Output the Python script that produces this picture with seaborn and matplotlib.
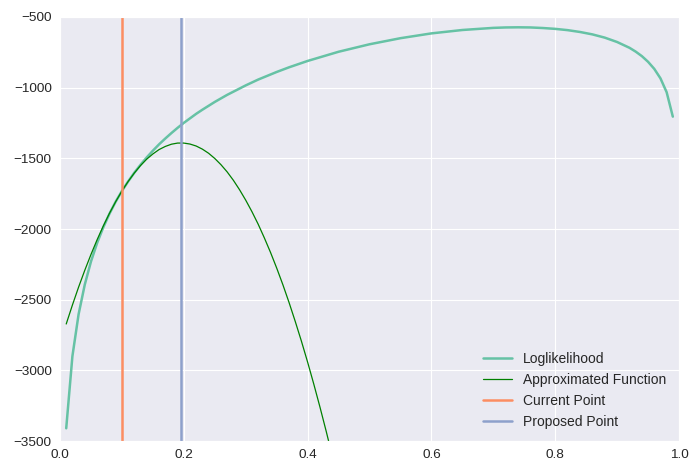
import numpy as np
import pandas as pd
import matplotlib
matplotlib.use("Agg")
import matplotlib.pyplot as plt
import seaborn as sns

# ------------------------------------------------------------
# data
# ------------------------------------------------------------
p_grid = [0.01, 0.02, 0.03, 0.04, 0.05, 0.06, 0.07, 0.08, 0.09, 0.10,
          0.11, 0.12, 0.13, 0.14, 0.15, 0.16, 0.17, 0.18, 0.19, 0.20,
          0.22, 0.23, 0.25, 0.27, 0.30, 0.32, 0.35, 0.37, 0.40, 0.45,
          0.50, 0.55, 0.60, 0.65, 0.70, 0.72, 0.74, 0.76, 0.78, 0.80,
          0.82, 0.84, 0.86, 0.88, 0.90, 0.92, 0.93, 0.94, 0.95, 0.96,
          0.97, 0.98, 0.99]
loglik = [-3410, -2900, -2603, -2393, -2230, -2098, -1987, -1891, -1806, -1731,
          -1664, -1602, -1546, -1494, -1446, -1401, -1360, -1321, -1284, -1249,
          -1185, -1156, -1101, -1051, -984, -943, -889, -856, -811, -746,
          -693, -650, -616, -592, -577, -574, -573, -574, -578, -584,
          -593, -606, -623, -646, -677, -718, -745, -777, -817, -867,
          -934, -1032, -1205]

approx_x = [0.01, 0.02, 0.03, 0.04, 0.05, 0.06, 0.07, 0.08, 0.09, 0.10,
            0.11, 0.12, 0.13, 0.14, 0.15, 0.16, 0.17, 0.18, 0.19, 0.20,
            0.21, 0.22, 0.23, 0.24, 0.25, 0.26, 0.27, 0.28, 0.29, 0.30,
            0.31, 0.32, 0.33, 0.34, 0.35, 0.36, 0.37, 0.38, 0.39, 0.40,
            0.41, 0.42, 0.43, 0.44, 0.45, 0.46]
approx_y = [-2672, -2538, -2411, -2292, -2180, -2075, -1978, -1888, -1806, -1731,
            -1664, -1604, -1551, -1506, -1469, -1438, -1416, -1400, -1392, -1392,
            -1399, -1413, -1435, -1464, -1501, -1545, -1596, -1655, -1722, -1796,
            -1877, -1965, -2062, -2165, -2276, -2394, -2520, -2654, -2794, -2942,
            -3098, -3261, -3431, -3609, -3795, -3987]

current_point = 0.1
proposed_point = 0.1957

colors = sns.color_palette("Set2", 3)

# ------------------------------------------------------------
# style
# ------------------------------------------------------------
sns.set_style("darkgrid")
plt.rcParams["font.family"] = ["Liberation Sans", "DejaVu Sans"]
plt.rcParams["xtick.labelsize"] = 9.7
plt.rcParams["ytick.labelsize"] = 9.7

df_ll = pd.DataFrame({"p": p_grid, "value": loglik})
df_ap = pd.DataFrame({"p": approx_x, "value": approx_y})

fig = plt.figure(figsize=(6.98, 4.76), dpi=100)
ax = fig.add_axes([0.086, 0.0735, 0.8868, 0.8908])

sns.lineplot(data=df_ll, x="p", y="value", ax=ax, color=colors[0],
             linewidth=1.8, label="Loglikelihood")
sns.lineplot(data=df_ap, x="p", y="value", ax=ax, color="green",
             linewidth=0.9, label="Approximated Function")
ax.axvline(current_point, color=colors[1], linewidth=1.8, label="Current Point")
ax.axvline(proposed_point, color=colors[2], linewidth=1.8, label="Proposed Point")

ax.set_xlim(0, 1.0)
ax.set_ylim(-3500, -500)
ax.set_xticks([0.0, 0.2, 0.4, 0.6, 0.8, 1.0])
ax.set_yticks([-3500, -3000, -2500, -2000, -1500, -1000, -500])
ax.set_xlabel("")
ax.set_ylabel("")
ax.tick_params(length=0, pad=6, colors="#262626")

leg = ax.legend(loc="lower right", frameon=False, fontsize=10,
                labelspacing=0.5, handlelength=2.1,
                bbox_to_anchor=(1.0, 0.0))

fig.savefig("out.png", dpi=100)
